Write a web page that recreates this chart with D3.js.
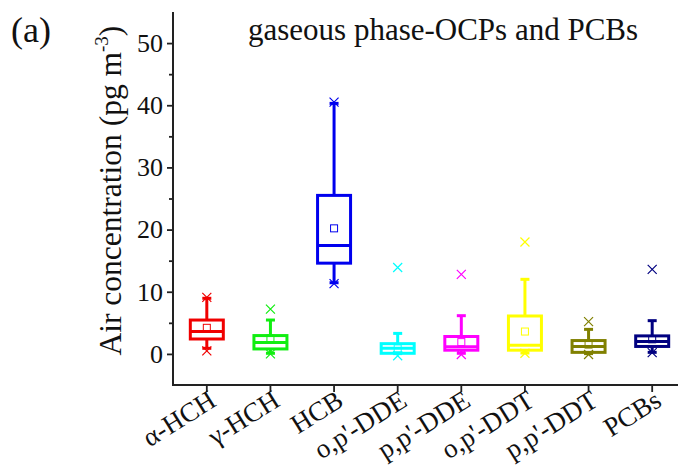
<!DOCTYPE html>
<html>
<head>
<meta charset="utf-8">
<script src="https://cdn.jsdelivr.net/npm/d3@7"></script>
<style>
  body { margin: 0; background: #fff; }
  svg text { font-family: "Liberation Serif", "Times New Roman", Times, "DejaVu Serif", serif !important; }
</style>
</head>
<body>
<svg width="678" height="465"></svg>
<script>
// Data (pg m-3)
const categories = ["α-HCH", "γ-HCH", "HCB", "o,p'-DDE", "p,p'-DDE", "o,p'-DDT", "p,p'-DDT", "PCBs"];
const colors     = ["#f00000", "#11ee11", "#0000ee", "#00ffff", "#ff00ff", "#ffff00", "#808000", "#000080"];
const whiskerLow  = [0.9, 0.1, 11.45, 0.05, 0.1, 0.15, 0.05, 0.25];
const q1          = [2.4, 0.8, 14.6, 0.1, 0.6, 0.6, 0.25, 1.2];
const median      = [3.6, 1.85, 17.45, 0.9, 1.15, 1.4, 1.2, 2.0];
const q3          = [5.45, 2.95, 25.5, 1.65, 2.8, 6.1, 2.15, 2.9];
const whiskerHigh = [8.95, 5.45, 40.3, 3.3, 6.15, 12.0, 3.95, 5.35];
const mean        = [4.2, 2.5, 20.2, 0.9, 1.9, 3.6, 1.5, 2.35];
const markHigh    = [9.1, 7.2, 40.5, 13.9, 12.8, 18.0, 5.2, 13.6];
const markLow     = [0.5, 0.0, 11.3, -0.3, -0.1, 0.1, -0.1, 0.2];
const yTicks = [0, 10, 20, 30, 40, 50];
const yMinor = [5, 15, 25, 35, 45];

const serif = "'Liberation Serif', 'Times New Roman', Times, serif";
const svg = d3.select("svg");

const x = d3.scaleBand()
    .domain(categories)
    .range([175, 684]);

const y = d3.scaleLinear()
    .domain([-5, 55])
    .range([385, 12]);

const axisX = 173;
const axisY = 385;

// y axis with minor ticks
svg.append("g")
    .attr("transform", "translate(" + axisX + ",0)")
    .call(d3.axisLeft(y).tickValues(yMinor).tickSize(4).tickFormat(""))
    .call(g => g.select(".domain").remove())
    .selectAll("line").attr("stroke", "#222").attr("stroke-width", 1.8);

const gy = svg.append("g")
    .attr("transform", "translate(" + axisX + ",0)")
    .call(d3.axisLeft(y).tickValues(yTicks).tickSize(6).tickPadding(4).tickSizeOuter(0));
gy.attr("font-family", serif);
gy.select(".domain").remove();
gy.selectAll("line").attr("stroke", "#222").attr("stroke-width", 1.8);
gy.selectAll("text").attr("font-size", 26).attr("fill", "#111");

svg.append("line")
    .attr("x1", axisX).attr("x2", axisX)
    .attr("y1", y(55)).attr("y2", axisY)
    .attr("stroke", "#222").attr("stroke-width", 2);

// x axis
svg.append("line")
    .attr("x1", axisX - 1).attr("x2", 684)
    .attr("y1", axisY).attr("y2", axisY)
    .attr("stroke", "#222").attr("stroke-width", 2);

const gx = svg.append("g")
    .attr("transform", "translate(0," + axisY + ")")
    .call(d3.axisBottom(x).tickSize(7).tickFormat(""));
gx.select(".domain").remove();
gx.selectAll("line").attr("stroke", "#222").attr("stroke-width", 1.8);

svg.append("g")
    .attr("font-family", serif)
    .selectAll("text")
    .data(categories)
    .join("text")
      .attr("transform", d => "translate(" + (x(d) + x.bandwidth() / 2 + 11) + "," + (axisY + 20) + ") rotate(-32)")
      .attr("text-anchor", "end")
      .attr("font-size", 27)
      .attr("fill", "#111")
      .text(d => d);

// boxes
const half = 16.5;
const cap = 4.5;
const mk = 4.5;
const boxes = svg.append("g")
    .selectAll("g")
    .data(categories)
    .join("g")
      .attr("transform", d => "translate(" + (x(d) + x.bandwidth() / 2) + ",0)");

boxes.each(function(d, i) {
    const g = d3.select(this);
    const c = colors[i];
    // whiskers
    g.append("line").attr("x1", 0).attr("x2", 0)
        .attr("y1", y(q3[i])).attr("y2", y(whiskerHigh[i]))
        .attr("stroke", c).attr("stroke-width", 3);
    g.append("line").attr("x1", 0).attr("x2", 0)
        .attr("y1", y(q1[i])).attr("y2", y(whiskerLow[i]))
        .attr("stroke", c).attr("stroke-width", 3);
    [whiskerHigh[i], whiskerLow[i]].forEach(v => {
        g.append("line").attr("x1", -cap).attr("x2", cap)
            .attr("y1", y(v)).attr("y2", y(v))
            .attr("stroke", c).attr("stroke-width", 3);
    });
    // box
    g.append("rect")
        .attr("x", -half).attr("width", half * 2)
        .attr("y", y(q3[i])).attr("height", y(q1[i]) - y(q3[i]))
        .attr("fill", "none").attr("stroke", c).attr("stroke-width", 3);
    g.append("line").attr("x1", -half).attr("x2", half)
        .attr("y1", y(median[i])).attr("y2", y(median[i]))
        .attr("stroke", c).attr("stroke-width", 3);
    // mean
    g.append("rect")
        .attr("x", -3.5).attr("y", y(mean[i]) - 3.5)
        .attr("width", 7).attr("height", 7)
        .attr("fill", "none").attr("stroke", c).attr("stroke-width", 1);
    // x marks
    [markHigh[i], markLow[i]].forEach(v => {
        g.append("path")
            .attr("d", "M" + (-mk) + "," + (y(v) - mk) + "L" + mk + "," + (y(v) + mk) +
                       "M" + (-mk) + "," + (y(v) + mk) + "L" + mk + "," + (y(v) - mk))
            .attr("stroke", c).attr("stroke-width", 1.2).attr("fill", "none");
    });
});

// labels
const yl = svg.append("text")
    .attr("transform", "translate(121," + ((y(-0.2) + 26) / 2) + ") rotate(-90)")
    .attr("text-anchor", "middle")
    .attr("font-family", serif)
    .attr("font-size", 31.5)
    .attr("fill", "#111");
yl.append("tspan").text("Air concentration (pg m");
yl.append("tspan").attr("font-size", 19).attr("dy", -13).text("-3");
yl.append("tspan").attr("dy", 13).text(")");

svg.append("text")
    .attr("x", 248).attr("y", 40)
    .attr("font-family", serif)
    .attr("font-size", 31)
    .attr("fill", "#111")
    .text("gaseous phase-OCPs and PCBs");

svg.append("text")
    .attr("x", 11).attr("y", 42)
    .attr("font-family", serif)
    .attr("font-size", 36)
    .attr("fill", "#111")
    .text("(a)");
</script>
</body>
</html>
